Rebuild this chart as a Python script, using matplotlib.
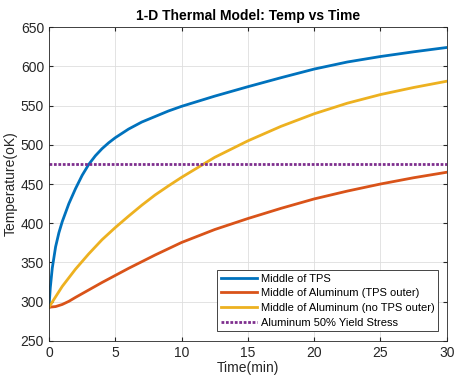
import matplotlib
matplotlib.use("Agg")
import matplotlib.pyplot as plt

plt.rcParams['font.family'] = ['Liberation Sans', 'DejaVu Sans']

# Data
t_tps = [0, 0.1, 0.25, 0.5, 0.75, 1, 1.5, 2, 2.5, 3, 3.5, 4, 4.5, 5, 6, 7, 8, 9, 10,
         12.5, 15, 17.5, 20, 22.5, 25, 27.5, 30]
T_tps = [293, 318, 343, 370, 388, 402, 425, 444, 461, 475, 486, 495, 502.5, 509, 520, 529, 536, 543, 549,
         562, 574, 585.5, 596.5, 605.5, 612.5, 618.5, 624]

t_al = [0, 0.5, 1, 1.5, 2, 3, 4, 5, 6, 7, 8, 9, 10, 12.5, 15, 17.5, 20, 22.5, 25, 27.5, 30]
T_al_tps = [293, 293.8, 296.5, 300.5, 305.5, 315, 324.5, 333.5, 342.5, 351, 359.5, 367.5, 375.5,
            392, 406, 419, 431, 441, 450, 458, 465]

t_noal = [0, 1, 2, 3, 4, 5, 6, 7, 8, 9, 10, 12.5, 15, 17.5, 20, 22.5, 25, 27.5, 30]
T_al_notps = [293, 319.5, 341.5, 361, 379, 394.5, 409, 423, 436, 447.5, 458.5,
              484, 505, 523.5, 539.5, 553, 564, 573, 581]

yield_x = [0, 30]
yield_T = [475, 475]

labels = ['Middle of TPS', 'Middle of Aluminum (TPS outer)',
          'Middle of Aluminum (no TPS outer)', 'Aluminum 50% Yield Stress']

fig = plt.figure(figsize=(4.62, 3.87), dpi=100)
ax = fig.add_axes([0.106, 0.119, 0.861, 0.811])

ax.plot(t_tps, T_tps, color='#0072BD', lw=2, label=labels[0])
ax.plot(t_al, T_al_tps, color='#D95319', lw=2, label=labels[1])
ax.plot(t_noal, T_al_notps, color='#EDB120', lw=2, label=labels[2])
ax.plot(yield_x, yield_T, color='#7E2F8E', lw=2, ls=(0, (1, 0.6)), label=labels[3])

ax.set_xlim(0, 30)
ax.set_ylim(250, 650)
ax.set_xticks(range(0, 31, 5))
ax.set_yticks(range(250, 651, 50))
ax.grid(True, color='#dedede', lw=0.6)
ax.set_axisbelow(True)
ax.tick_params(direction='in', top=True, right=True, labelsize=10, colors='#262626', length=3)
for s in ax.spines.values():
    s.set_color('#262626')
    s.set_linewidth(0.6)

ax.set_xlabel('Time(min)', fontsize=10, color='#262626', labelpad=1)
ax.set_ylabel('Temperature(oK)', fontsize=10, color='#262626', labelpad=2)
ax.set_title('1-D Thermal Model: Temp vs Time', fontsize=10, fontweight='bold', pad=5)

leg = ax.legend(loc='lower right', bbox_to_anchor=(0.977, 0.032), borderaxespad=0,
                fontsize=8, fancybox=False, edgecolor='#262626', framealpha=1,
                handlelength=3.3, handletextpad=0.3, labelspacing=0.42, borderpad=0.3)
leg.get_frame().set_linewidth(0.6)

fig.savefig('out.png', dpi=100)
